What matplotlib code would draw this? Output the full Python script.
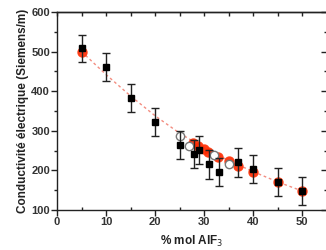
import matplotlib
matplotlib.use("Agg")
import matplotlib.pyplot as plt
from matplotlib.ticker import MultipleLocator, NullFormatter

plt.rcParams['font.family'] = ['Liberation Sans', 'DejaVu Sans']

# Experimental data (black squares with error bars)
exp_x = [5, 10, 15, 20, 25, 28, 29, 31, 33, 37, 40, 45, 50]
exp_y = [508, 461, 382, 322, 265, 242, 251, 215, 196, 220, 204, 170, 148]
exp_err = [35, 35, 35, 35, 35, 35, 35, 36, 36, 36, 35, 35, 35]

# Red filled circles
red_x = [5, 27.8, 28.8, 29.9, 30.9, 32.9, 35, 37, 39.9, 45, 50]
red_y = [499, 268, 262, 254, 247, 235, 224, 211, 197, 170, 148]

# Open grey circles
open_x = [25, 27, 32, 35]
open_y = [287, 261, 238, 215]

# Dashed fit line (read values)
fit_x = [5, 10, 15, 20, 25, 30, 35, 40, 45, 50]
fit_y = [500, 442, 388, 338, 294, 257, 225, 197, 171, 148]

fig = plt.figure(figsize=(3.26, 2.5), dpi=100)
ax = fig.add_axes([57/326, 1-210/250, 1-57/326 + 0.002, 198/250])

ax.plot(fit_x, fit_y, linestyle=(0, (2, 2)), color='#f07060', lw=1.0, alpha=0.8, zorder=1)
ax.plot(red_x, red_y, 'o', color='#ff2800', ms=6.5, mec='#ff3a10', alpha=0.9, zorder=2)
ax.plot(open_x, open_y, 'o', mfc='white', mec='#777777', ms=6, mew=1.0, zorder=3)
ax.errorbar(exp_x, exp_y, yerr=exp_err, fmt='s', color='black', ms=4.5,
            ecolor='#222222', elinewidth=1.0, capsize=3, capthick=1.0, zorder=4)

ax.set_xlim(0, 55)
ax.set_ylim(100, 600)
ax.xaxis.set_major_locator(MultipleLocator(10))
ax.xaxis.set_minor_locator(MultipleLocator(5))
ax.yaxis.set_major_locator(MultipleLocator(100))
ax.yaxis.set_minor_locator(MultipleLocator(50))

ax.spines['right'].set_visible(False)
for s in ax.spines.values():
    s.set_linewidth(1.0)
    s.set_color('#222222')

ax.tick_params(axis='both', which='major', length=4, width=1.0, color='#222222',
               labelsize=8, labelcolor='#333333', pad=1, direction='out')
ax.tick_params(axis='both', which='minor', length=2.5, width=1.0, color='#222222',
               direction='out')
ax.tick_params(axis='x', which='minor', direction='in')

for lab in ax.get_xticklabels() + ax.get_yticklabels():
    lab.set_fontweight('bold')

# Top ticks (inward, every 5)
sx = ax.secondary_xaxis('top')
sx.xaxis.set_major_locator(MultipleLocator(5))
sx.xaxis.set_major_formatter(NullFormatter())
sx.tick_params(axis='x', which='major', direction='in', length=3, width=1.0, color='#222222')
sx.spines['top'].set_linewidth(1.0)
sx.spines['top'].set_color('#222222')

# Right ticks (inward)
sy = ax.secondary_yaxis('right')
sy.yaxis.set_major_locator(MultipleLocator(100))
sy.yaxis.set_minor_locator(MultipleLocator(50))
sy.yaxis.set_major_formatter(NullFormatter())
sy.tick_params(axis='y', which='major', direction='in', length=4, width=1.0, color='#222222')
sy.tick_params(axis='y', which='minor', direction='in', length=2, width=1.0, color='#222222')
sy.spines['right'].set_visible(False)

ax.set_xlabel('% mol AlF$_3$', fontsize=8.5, fontweight='bold', color='#222222', labelpad=5)
ax.set_ylabel('Conductivité électrique (Siemens/m)', fontsize=8.5, fontweight='bold',
              color='#222222', labelpad=2)

fig.savefig('out.png', dpi=100)
